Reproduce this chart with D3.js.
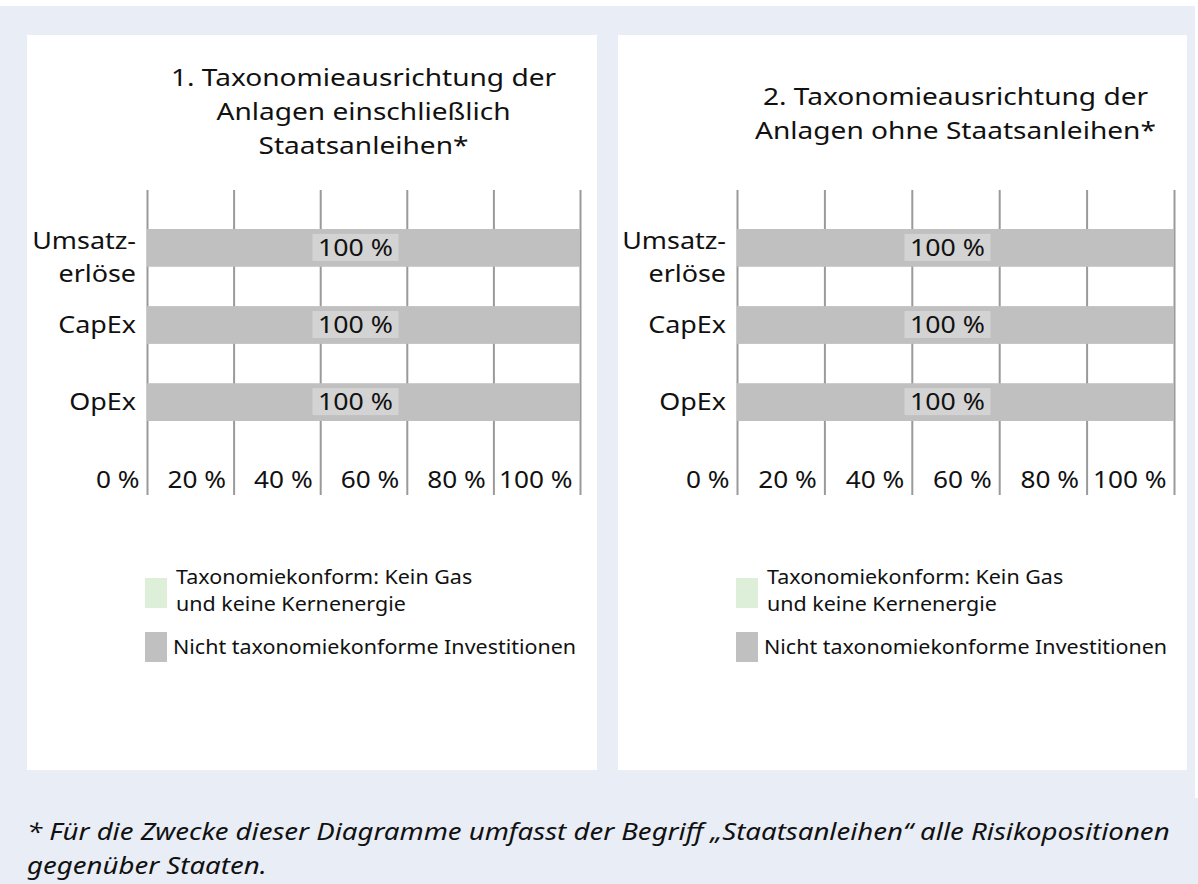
<!DOCTYPE html>
<html>
<head>
<meta charset="utf-8">
<script src="https://cdn.jsdelivr.net/npm/d3@7"></script>
<style>
  html, body { margin: 0; padding: 0; background: #ffffff; }
  text { font-family: "Noto Sans", "Open Sans", sans-serif; fill: #111; }
</style>
</head>
<body>
<script>
// categories and values
var categories = ['Umsatzerlöse', 'CapEx', 'OpEx'];
var categoryLines = [['Umsatz-', 'erlöse'], ['CapEx'], ['OpEx']];
var konform = [0, 0, 0];              // Taxonomiekonform: Kein Gas und keine Kernenergie
var nichtKonform = [100, 100, 100];   // Nicht taxonomiekonforme Investitionen
var konform2 = [0, 0, 0];
var nichtKonform2 = [100, 100, 100];
var tickValues = [0, 20, 40, 60, 80, 100];
var titles = [
  ['1. Taxonomieausrichtung der', 'Anlagen einschließlich', 'Staatsanleihen*'],
  ['2. Taxonomieausrichtung der', 'Anlagen ohne Staatsanleihen*']
];
var legendLabels = [
  ['Taxonomiekonform: Kein Gas', 'und keine Kernenergie'],
  ['Nicht taxonomiekonforme Investitionen']
];
var footnote = ['* Für die Zwecke dieser Diagramme umfasst der Begriff „Staatsanleihen“ alle Risikopositionen',
                'gegenüber Staaten.'];

var colors = { konform: '#deefd9', nicht: '#c0c0c0', labelBox: '#d3d3d3', grid: '#9a9a9a' };

// text in the source is a bit wider than Noto Sans, so stretch it sideways
function wideText(parent, x, y, str, size, sx, anchor, italic){
  var t = parent.append('text')
    .attr('transform', 'translate(' + x + ',' + y + ') scale(' + sx + ',1)')
    .attr('text-anchor', anchor || 'start')
    .style('font-size', size + 'px')
    .text(str);
  if (italic) t.style('font-style', 'italic');
  return t;
}

var initialize = function(){
  var screen = { width: 1198, height: 884 };
  var svg = d3.select('body').append('svg')
              .attr('width', screen.width)
              .attr('height', screen.height);

  // background
  svg.append('rect').attr('x', 0).attr('y', 6).attr('width', 1195).attr('height', 792).attr('fill', '#e9edf6');
  svg.append('rect').attr('x', 0).attr('y', 798).attr('width', 1198).attr('height', 86).attr('fill', '#e9edf6');

  var panels = [
    { px: 27, pw: 570, x0: 147, x1: 580, title: titles[0], titleY: 86, konform: konform, nicht: nichtKonform, legendX: 145 },
    { px: 618, pw: 569, x0: 737, x1: 1174, title: titles[1], titleY: 105, konform: konform2, nicht: nichtKonform2, legendX: 736 }
  ];

  panels.forEach(function(p){
    var g = svg.append('g');
    g.append('rect').attr('x', p.px).attr('y', 35).attr('width', p.pw).attr('height', 735).attr('fill', '#ffffff');

    var xScale = d3.scaleLinear().domain([0, 100]).range([p.x0, p.x1]);
    var yScale = d3.scaleBand().domain(categories).range([190, 460]).paddingInner(0.51).paddingOuter(0.506);

    // title
    p.title.forEach(function(line, i){
      wideText(g, (p.x0 + p.x1) / 2, p.titleY + i * 34, line, 24, 1.17, 'middle');
    });

    // grid + tick labels
    var xAxis = d3.axisBottom(xScale)
                  .tickValues(tickValues)
                  .tickSize(-(495 - 190))
                  .tickSizeOuter(0)
                  .tickFormat(function(d){ return d + ' %'; });
    var ax = g.append('g')
              .attr('transform', 'translate(0,495)')
              .call(xAxis);
    ax.select('.domain').remove();
    ax.selectAll('line').attr('stroke', colors.grid).attr('stroke-width', 2);
    ax.selectAll('text')
      .attr('text-anchor', 'end')
      .attr('x', null)
      .attr('y', null)
      .attr('dy', null)
      .attr('transform', 'translate(-8,-7) scale(1.14,1)')
      .attr('fill', '#111')
      .style('font-size', '23px')
      .style('font-family', '"Noto Sans", sans-serif');

    // stacked bars
    var rows = categories.map(function(c, i){ return { cat: c, k: p.konform[i], n: p.nicht[i] }; });
    g.append('g').selectAll('rect')
     .data(rows).enter().append('rect')
     .attr('x', xScale(0))
     .attr('y', function(d){ return yScale(d.cat); })
     .attr('width', function(d){ return xScale(d.k) - xScale(0); })
     .attr('height', yScale.bandwidth())
     .attr('fill', colors.konform);
    g.append('g').selectAll('rect')
     .data(rows).enter().append('rect')
     .attr('x', function(d){ return xScale(d.k); })
     .attr('y', function(d){ return yScale(d.cat); })
     .attr('width', function(d){ return xScale(d.k + d.n) - xScale(d.k); })
     .attr('height', yScale.bandwidth())
     .attr('fill', colors.nicht);

    // value labels
    rows.forEach(function(d){
      var cx = xScale(d.k + d.n / 2) - 8;
      var cy = yScale(d.cat) + yScale.bandwidth() / 2;
      g.append('rect').attr('x', cx - 43).attr('y', cy - 14).attr('width', 86).attr('height', 27).attr('fill', colors.labelBox);
      wideText(g, cx, cy + 8, d.n + ' %', 23, 1.16, 'middle');
    });

    // category labels
    categories.forEach(function(c, i){
      var lines = categoryLines[i];
      var cy = yScale(c) + yScale.bandwidth() / 2;
      lines.forEach(function(l, j){
        var y = lines.length === 1 ? cy + 8 : cy + 1 + j * 33;
        wideText(g, p.x0 - 11, y, l, 23, 1.17, 'end');
      });
    });

    // legend
    g.append('rect').attr('x', p.legendX).attr('y', 578).attr('width', 22).attr('height', 30).attr('fill', colors.konform);
    g.append('rect').attr('x', p.legendX).attr('y', 632).attr('width', 22).attr('height', 30).attr('fill', colors.nicht);
    legendLabels[0].forEach(function(l, i){
      wideText(g, p.legendX + 31, 584 + i * 27, l, 19, 1.13);
    });
    wideText(g, p.legendX + 28, 654, legendLabels[1][0], 19, 1.13);
  });

  // footnote
  footnote.forEach(function(l, i){
    wideText(svg, 27, 840 + i * 34, l, 23, 1.2, 'start', true);
  });
};

initialize();
</script>
</body>
</html>
